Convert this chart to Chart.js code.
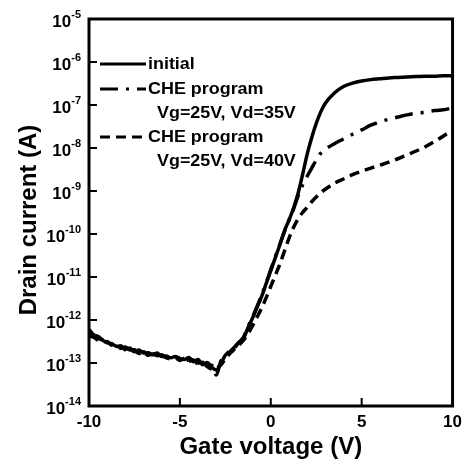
<!DOCTYPE html>
<html>
<head>
<meta charset="utf-8">
<title>Id-Vg</title>
<script src="https://cdn.jsdelivr.net/npm/chart.js@4.4.1/dist/chart.umd.min.js"></script>
<style>
  html, body { margin: 0; padding: 0; background: #fff; }
  #wrap { width: 468px; height: 466px; }
</style>
</head>
<body>
<div id="wrap"><canvas id="idvgChart"></canvas></div>
<script>
// Gate voltage sweep (V)
const gateVoltage = [
  -10, -9.75, -9.5, -9.25, -9, -8.75, -8.5, -8.25, -8, -7.75,
  -7.5, -7.25, -7, -6.75, -6.5, -6.25, -6, -5.75, -5.5, -5.25,
  -5, -4.75, -4.5, -4.25, -4, -3.75, -3.5, -3.25, -3, -2.75,
  -2.5, -2.25, -2, -1.75, -1.5, -1.25, -1, -0.75, -0.5, -0.25,
  0, 0.25, 0.5, 0.75, 1, 1.25, 1.5, 1.75, 2, 2.25,
  2.5, 2.75, 3, 3.5, 4, 4.5, 5, 5.5, 6, 6.5,
  7, 7.5, 8, 8.5, 9, 9.5, 10
];

// Drain current as log10(A)
const logInitial = [
  -12.30, -12.36, -12.43, -12.47, -12.53, -12.55, -12.61, -12.62, -12.68, -12.65,
  -12.74, -12.70, -12.77, -12.76, -12.81, -12.77, -12.85, -12.84, -12.88, -12.85,
  -12.90, -12.92, -12.87, -12.97, -12.92, -13.04, -12.99, -13.10, -13.16, -13.02,
  -12.82, -12.74, -12.63, -12.52, -12.42, -12.18, -11.95, -11.70, -11.45, -11.15,
  -10.85, -10.55, -10.25, -9.93, -9.68, -9.40, -9.06, -8.62, -8.15, -7.76,
  -7.43, -7.16, -6.96, -6.72, -6.57, -6.49, -6.44, -6.41, -6.39, -6.37,
  -6.36, -6.35, -6.34, -6.33, -6.33, -6.32, -6.32
];
const logVd35 = [
  -12.22, -12.34, -12.38, -12.46, -12.49, -12.58, -12.57, -12.66, -12.63, -12.70,
  -12.69, -12.76, -12.74, -12.80, -12.78, -12.83, -12.81, -12.88, -12.86, -12.90,
  -12.87, -12.95, -12.93, -12.94, -13.00, -12.98, -13.07, -13.05, -13.28, -12.96,
  -12.85, -12.70, -12.65, -12.52, -12.40, -12.15, -11.93, -11.68, -11.42, -11.13,
  -10.83, -10.53, -10.24, -9.95, -9.68, -9.42, -9.12, -8.86, -8.66, -8.47,
  -8.28, -8.12, -8.03, -7.90, -7.79, -7.68, -7.58, -7.47, -7.39, -7.33,
  -7.28, -7.23, -7.19, -7.17, -7.13, -7.11, -7.07
];
const logVd40 = [
  -12.38, -12.40, -12.47, -12.51, -12.50, -12.59, -12.63, -12.60, -12.70, -12.72,
  -12.71, -12.78, -12.75, -12.82, -12.79, -12.86, -12.83, -12.87, -12.91, -12.88,
  -12.94, -12.89, -12.96, -12.93, -13.02, -13.00, -13.08, -13.14, -13.12, -13.05,
  -12.90, -12.78, -12.68, -12.58, -12.47, -12.32, -12.13, -11.93, -11.72, -11.48,
  -11.22, -10.96, -10.70, -10.40, -10.10, -9.85, -9.65, -9.50, -9.38, -9.25,
  -9.14, -9.04, -8.96, -8.82, -8.72, -8.62, -8.54, -8.47, -8.40, -8.33,
  -8.25, -8.16, -8.07, -7.97, -7.85, -7.72, -7.58
];

const seriesLabels = [
  ["initial"],
  ["CHE program", "Vg=25V, Vd=35V"],
  ["CHE program", "Vg=25V, Vd=40V"]
];
const xTicks = [-10, -5, 0, 5, 10];
const yExponents = [-14, -13, -12, -11, -10, -9, -8, -7, -6, -5];
const yTitle = "Drain current (A)";

const FONT = '"Liberation Sans", Arial, Helvetica, sans-serif';

function toPoints(logs) {
  return gateVoltage.map((v, i) => ({ x: v, y: Math.pow(10, logs[i]) }));
}

// frame, inward ticks, power-of-ten labels, y title and the legend
const axisDecor = {
  id: "axisDecor",
  afterDraw(chart) {
    const { ctx, chartArea: a } = chart;
    const xs = chart.scales.x;
    const ys = chart.scales.y;
    ctx.save();
    ctx.strokeStyle = "#000";
    ctx.fillStyle = "#000";
    ctx.lineWidth = 3;
    ctx.setLineDash([]);
    ctx.strokeRect(a.left, a.top, a.right - a.left, a.bottom - a.top);

    ctx.lineWidth = 2;
    ctx.beginPath();
    xTicks.forEach((v) => {
      const px = xs.getPixelForValue(v);
      ctx.moveTo(px, a.bottom);
      ctx.lineTo(px, a.bottom - 8);
    });
    yExponents.forEach((e) => {
      const py = ys.getPixelForValue(Math.pow(10, e));
      ctx.moveTo(a.left, py);
      ctx.lineTo(a.left + 8, py);
    });
    ctx.stroke();

    ctx.textAlign = "right";
    ctx.textBaseline = "alphabetic";
    yExponents.forEach((e) => {
      const py = ys.getPixelForValue(Math.pow(10, e));
      const exp = String(e);
      ctx.font = "bold 11px " + FONT;
      const w = ctx.measureText(exp).width;
      ctx.fillText(exp, a.left - 8, py - 1);
      ctx.font = "bold 17px " + FONT;
      ctx.fillText("10", a.left - 8 - w, py + 8);
    });

    // rotated y axis title
    ctx.save();
    ctx.translate(36, 220);
    ctx.rotate(-Math.PI / 2);
    ctx.textAlign = "center";
    ctx.font = "bold 24px " + FONT;
    ctx.fillText(yTitle, 0, 0);
    ctx.restore();

    // legend
    let rowY = a.top + 45;
    chart.data.datasets.forEach((ds, i) => {
      const lines = seriesLabels[i];
      ctx.lineWidth = 3;
      ctx.setLineDash(ds.borderDash || []);
      ctx.beginPath();
      ctx.moveTo(a.left + 11, rowY);
      ctx.lineTo(a.left + 57, rowY);
      ctx.stroke();
      ctx.setLineDash([]);
      ctx.font = "bold 16px " + FONT;
      ctx.textAlign = "left";
      lines.forEach((t, j) => {
        ctx.save();
        ctx.translate(a.left + 59 + (j ? 9 : 0), rowY + 5 + j * 23.5);
        ctx.scale(1.12, 1);
        ctx.fillText(t, 0, 0);
        ctx.restore();
      });
      rowY += lines.length > 1 ? 48 : 25;
    });
    ctx.restore();
  }
};

document.addEventListener("DOMContentLoaded", function () {
  const ctx = document.getElementById("idvgChart").getContext("2d");
  new Chart(ctx, {
    type: "line",
    data: {
      datasets: [
        {
          label: seriesLabels[0].join(" "),
          data: toPoints(logInitial),
          borderColor: "#000",
          borderWidth: 3.5,
          borderDash: []
        },
        {
          label: seriesLabels[1].join(" "),
          data: toPoints(logVd35),
          borderColor: "#000",
          borderWidth: 3.5,
          borderDash: [18, 8, 3, 8]
        },
        {
          label: seriesLabels[2].join(" "),
          data: toPoints(logVd40),
          borderColor: "#000",
          borderWidth: 3.5,
          borderDash: [10, 6]
        }
      ]
    },
    options: {
      responsive: true,
      maintainAspectRatio: false,
      animation: false,
      parsing: false,
      layout: { padding: { top: 19, right: 12, left: 0, bottom: 0 } },
      elements: {
        point: { radius: 0 },
        line: { cubicInterpolationMode: "monotone", borderCapStyle: "butt" }
      },
      plugins: {
        legend: { display: false },
        tooltip: { enabled: false }
      },
      scales: {
        x: {
          type: "linear",
          min: -10,
          max: 10,
          afterBuildTicks: (s) => { s.ticks = xTicks.map((v) => ({ value: v })); },
          afterFit: (s) => { s.height = 60; },
          grid: { display: false, drawTicks: false },
          border: { display: false },
          ticks: {
            color: "#000",
            autoSkip: false,
            maxRotation: 0,
            padding: 6,
            font: { family: FONT, size: 17, weight: "bold" }
          },
          title: {
            display: true,
            text: "Gate voltage (V)",
            color: "#000",
            padding: { top: 0, bottom: 4 },
            font: { family: FONT, size: 24, weight: "bold" }
          }
        },
        y: {
          type: "logarithmic",
          min: 1e-14,
          max: 1e-5,
          afterBuildTicks: (s) => { s.ticks = yExponents.map((e) => ({ value: Math.pow(10, e) })); },
          afterFit: (s) => { s.width = 89; },
          grid: { display: false, drawTicks: false },
          border: { display: false },
          ticks: { display: false },
          title: { display: false }
        }
      }
    },
    plugins: [axisDecor]
  });
});
</script>
</body>
</html>
